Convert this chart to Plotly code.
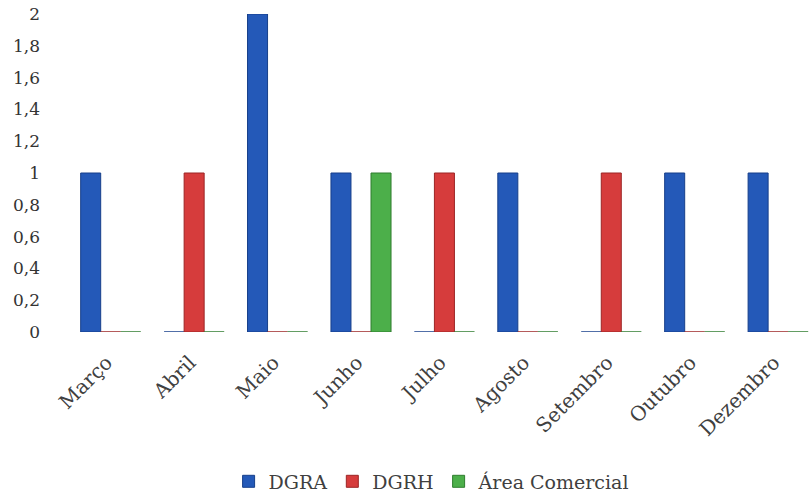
import plotly.graph_objects as go

months = ["Março", "Abril", "Maio", "Junho", "Julho", "Agosto", "Setembro", "Outubro", "Dezembro"]
dgra = [1, 0, 2, 1, 0, 1, 0, 1, 1]
dgrh = [0, 1, 0, 0, 1, 0, 1, 0, 0]
area = [0, 0, 0, 1, 0, 0, 0, 0, 0]
y_ticks = [0, 0.2, 0.4, 0.6, 0.8, 1, 1.2, 1.4, 1.6, 1.8, 2]
y_text = ["0", "0,2", "0,4", "0,6", "0,8", "1", "1,2", "1,4", "1,6", "1,8", "2"]

idx = list(range(len(months)))
SERIF = "Georgia, 'DejaVu Serif', serif"

fig = go.Figure()
series = [("DGRA", dgra, "#2459b8", "#173f8a"),
          ("DGRH", dgrh, "#d63c3c", "#9c2525"),
          ("Área Comercial", area, "#4caf4a", "#2f7d2e")]
for name, vals, col, edge in series:
    fig.add_trace(go.Bar(x=idx, y=vals, name=name,
                         marker=dict(color=col, line=dict(color=edge, width=1))))

fig.update_layout(
    width=809, height=501,
    margin=dict(l=69, r=0, t=14, b=165),
    paper_bgcolor="white", plot_bgcolor="white",
    barmode="group", bargap=0.28, bargroupgap=0,
    font=dict(family=SERIF, color="#3a3a3a"),
    showlegend=True,
    legend=dict(orientation="h", x=0.49, xanchor="center", y=-0.47, yanchor="middle",
                font=dict(family=SERIF, size=19, color="#404040")),
    xaxis=dict(range=[-0.5, 8.37], tickvals=[i - 0.05 for i in idx], ticktext=months,
               tickangle=-45, showgrid=False, zeroline=False, showline=False, ticks="",
               ticklabelstandoff=14,
               tickfont=dict(family=SERIF, size=20, color="#404040")),
    yaxis=dict(range=[0, 2], tickvals=y_ticks, ticktext=y_text,
               showgrid=False, zeroline=False, showline=False, ticks="",
               ticklabelstandoff=28,
               tickfont=dict(family=SERIF, size=17, color="#333333")),
)

fig.write_html("out.html")
